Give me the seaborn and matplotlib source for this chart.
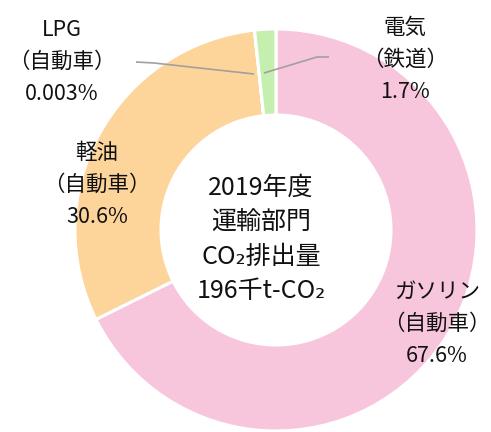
import matplotlib
matplotlib.use("Agg")
import matplotlib.pyplot as plt
import seaborn as sns

# Transport-sector CO2 emissions by energy source, FY2019
categories = ["ガソリン", "軽油", "LPG", "電気"]
sub_labels = ["（自動車）", "（自動車）", "（自動車）", "（鉄道）"]
shares = [67.6, 30.6, 0.003, 1.7]
colors = ["#F8C6DC", "#FDD59B", "#EFEFEF", "#C4EFAF"]
center_lines = ["2019年度", "運輸部門", "CO₂排出量", "196千t-CO₂"]

sns.set_theme(style="white")
plt.rcParams["font.family"] = ["Noto Sans CJK JP", "DejaVu Sans"]

W, H = 491, 432
fig = plt.figure(figsize=(W / 100, H / 100), dpi=100)
ax = fig.add_axes([0, 0, 1, 1])


def py(y):
    """Convert a top-down pixel row to axes y."""
    return H - y


cx, cy, r_out, r_in = 276, 230, 201, 115
ax.pie(
    shares,
    colors=colors,
    startangle=90,
    counterclock=False,
    center=(cx, py(cy)),
    radius=r_out,
    wedgeprops=dict(width=r_out - r_in, edgecolor="white", linewidth=2.2),
    frame=True,
)
ax.set_xlim(0, W)
ax.set_ylim(0, H)
ax.set_aspect("equal")
ax.axis("off")

# leader lines for the two thin slices
line_kw = dict(color="#A0A0A0", lw=1.2, solid_capstyle="butt")
ax.plot([136, 154, 254], [py(62), py(63), py(74)], **line_kw)
ax.plot([329, 317, 264], [py(57), py(57), py(73)], **line_kw)

# slice labels: x centre and first-line row for each category
label_pos = {
    "ガソリン": (437, 292),
    "軽油": (97, 153),
    "LPG": (62, 30),
    "電気": (405, 28),
}
fs = 15.5
step = 32
for name, sub, val in zip(categories, sub_labels, shares):
    x, y0 = label_pos[name]
    for i, line in enumerate([name, sub, f"{val:g}%"]):
        ax.text(x, py(y0 + i * step), line, ha="center", va="center",
                fontsize=fs, color="#111111")

# centre caption
for i, line in enumerate(center_lines):
    ax.text(261, py(188 + i * 34.5), line, ha="center", va="center",
            fontsize=18, color="#111111")

fig.savefig("out.png", dpi=100)
